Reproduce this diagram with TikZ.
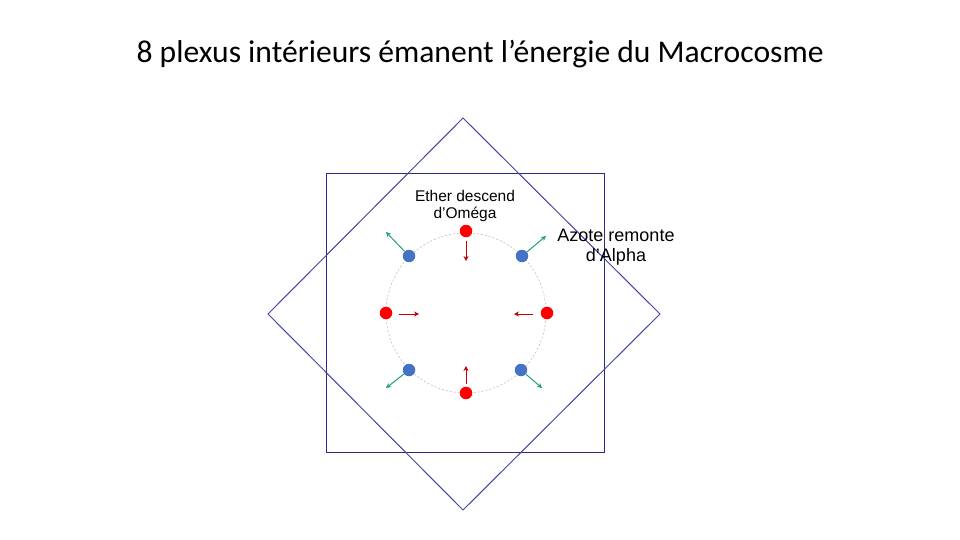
\documentclass[tikz,border=0pt]{standalone}
\usepackage{fontspec}
\setmainfont{Liberation Sans}
\newfontfamily\titlefont{Carlito}
\usetikzlibrary{arrows.meta}
\definecolor{navy}{HTML}{2B2B85}
\definecolor{diamc}{HTML}{4545A5}
\definecolor{dotred}{HTML}{FF0000}
\definecolor{dotblue}{HTML}{4472C4}
\definecolor{arrred}{HTML}{C00000}
\definecolor{arrgreen}{HTML}{21A07A}
\tikzset{
  reddot/.style={circle,fill=dotred,inner sep=0pt,minimum size=12.5pt},
  bluedot/.style={circle,fill=dotblue,inner sep=0pt,minimum size=12.5pt},
  redarrow/.style={draw=arrred,line width=1pt,-{Stealth[length=5pt,width=5pt]}},
  greenarrow/.style={draw=arrgreen,line width=1pt,-{Stealth[length=5pt,width=5pt]}},
  lbl/.style={align=center,inner sep=0pt}
}
\begin{document}
\begin{tikzpicture}[x=1pt,y=-1pt]
\useasboundingbox (0,0) rectangle (960,540);
\fill[white] (0,0) rectangle (960,540);
\node[inner sep=0pt,font=\titlefont\fontsize{31.6}{36}\selectfont] (title) at (480,54) {8 plexus intérieurs émanent l’énergie du Macrocosme};
% square and diamond
\draw[navy,line width=1pt] (326,174) rectangle (604,452);
\draw[diamc,line width=1pt] (463,118) -- (660,314) -- (463,510) -- (268,314) -- cycle;
% circle
\coordinate (c) at (466,313);
\draw[gray!50,line width=0.6pt,dash pattern=on 2pt off 2pt] (c) circle[radius=80];
% dots
\node[reddot] (rt) at (466,231) {};
\node[reddot] (rl) at (386,313) {};
\node[reddot] (rr) at (547,313) {};
\node[reddot] (rb) at (466,393) {};
\node[bluedot] (btl) at (409,256) {};
\node[bluedot] (btr) at (522,256) {};
\node[bluedot] (bbl) at (409,370) {};
\node[bluedot] (bbr) at (521,370) {};
% arrow end coordinates
\coordinate (rt1) at (466,241); \coordinate (rt2) at (466,261);
\coordinate (rl1) at (399,314); \coordinate (rl2) at (419,314);
\coordinate (rr1) at (533,314); \coordinate (rr2) at (514,314);
\coordinate (rb1) at (466,384); \coordinate (rb2) at (466,366);
\draw[redarrow] (rt1) -- (rt2);
\draw[redarrow] (rl1) -- (rl2);
\draw[redarrow] (rr1) -- (rr2);
\draw[redarrow] (rb1) -- (rb2);
\coordinate (gtl) at (386,232);
\coordinate (gtr) at (546,236);
\coordinate (gbl) at (386,388);
\coordinate (gbr) at (542,388);
\draw[greenarrow] (btl) -- (gtl);
\draw[greenarrow] (btr) -- (gtr);
\draw[greenarrow] (bbl) -- (gbl);
\draw[greenarrow] (bbr) -- (gbr);
% labels
\node[lbl,font=\fontsize{15.5}{17.5}\selectfont] (ether) at (465,206) {Ether descend\\d’Oméga};
\node[lbl,font=\fontsize{18}{20.5}\selectfont] (azote) at (616,247) {Azote remonte\\d’Alpha};
\end{tikzpicture}
\end{document}
